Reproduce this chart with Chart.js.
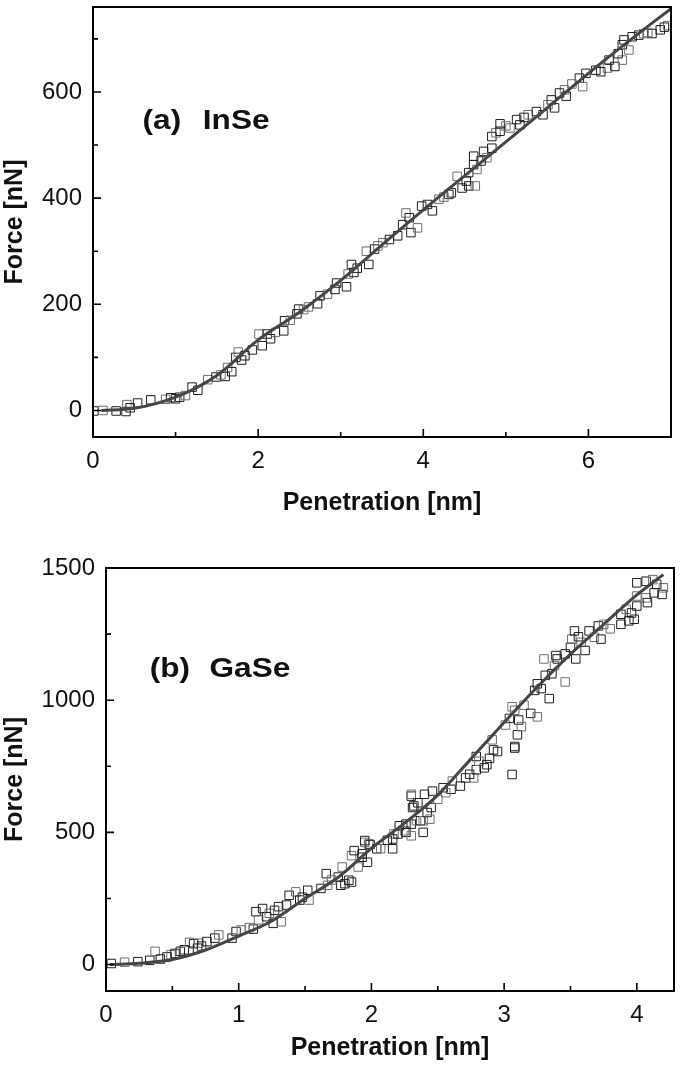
<!DOCTYPE html>
<html>
<head>
<meta charset="utf-8">
<script src="https://cdn.jsdelivr.net/npm/chart.js@4.4.1/dist/chart.umd.min.js"></script>
<style>
  html, body { margin: 0; padding: 0; background: #fff; }
  #wrap { position: relative; width: 681px; height: 1070px; }
  canvas { position: absolute; left: 0; }
</style>
</head>
<body>
<div id="wrap">
  <canvas id="chartA" width="681" height="518" style="top:0px"></canvas>
  <canvas id="chartB" width="681" height="533" style="top:530px"></canvas>
</div>
<script>
// (a) InSe - measured points
const inseX = [0.01, 0.12, 0.28, 0.40, 0.41, 0.54, 0.70, 0.88, 0.94, 1.05, 1.12, 1.20, 1.27, 1.39, 1.49, 1.60, 1.63, 1.68, 1.73, 1.76,
  1.84, 1.93, 2.01, 2.05, 2.11, 2.21, 2.31, 2.32, 2.39, 2.47, 2.49, 2.61, 2.72, 2.75, 2.84, 2.93, 3.07, 3.09, 3.13, 3.16,
  3.31, 3.34, 3.41, 3.51, 3.59, 3.69, 3.79, 3.83, 3.85, 3.93, 4.05, 4.11, 4.19, 4.31, 4.34, 4.41, 4.47, 4.55, 4.63, 4.55,
  4.61, 4.65, 4.61, 4.73, 4.77, 4.83, 4.83, 4.88, 4.93, 4.93, 5.05, 5.13, 5.17, 5.27, 5.37, 5.45, 5.51, 5.55, 5.59, 5.71,
  5.73, 5.89, 5.93, 5.97, 6.09, 6.23, 6.25, 6.32, 6.41, 6.41, 6.43, 6.49, 6.53, 6.61, 6.67, 6.77, 6.87, 6.96,
  0.45, 1.00, 1.55, 1.80, 2.15, 2.55, 2.95, 3.20, 3.45, 3.75, 3.98, 4.25, 4.52, 4.70, 5.00, 5.22, 5.65, 5.80, 6.15, 6.36,
  6.72, 6.92];
const inseY = [-1, 0, -1, -2, 11, 14, 20, 21, 24, 25, 28, 44, 38, 58, 63, 64, 81, 73, 100, 110,
  103, 114, 144, 122, 144, 147, 150, 169, 170, 182, 191, 195, 201, 216, 219, 228, 233, 257, 275, 260,
  300, 275, 304, 316, 322, 329, 372, 363, 335, 344, 388, 376, 398, 407, 410, 441, 419, 423, 423, 448,
  463, 454, 479, 488, 476, 494, 516, 523, 540, 526, 532, 548, 538, 557, 563, 557, 576, 585, 570, 604,
  592, 626, 610, 635, 641, 645, 660, 648, 660, 689, 698, 679, 704, 707, 710, 710, 717, 725,
  5, 22, 67, 95, 135, 190, 240, 268, 310, 350, 385, 402, 432, 470, 536, 552, 598, 615, 638, 672,
  712, 722];
// (a) fitted curve
const inseFitX = [0.1, 0.5, 1, 1.5, 2, 2.5, 3, 3.5, 4, 4.5, 5, 5.5, 6, 6.5, 7];
const inseFitY = [0, 4, 25, 66, 133, 185, 245, 312, 378, 442, 506, 570, 635, 697, 757];
const inseXTicks = [0, 1, 2, 3, 4, 5, 6, 7];
const inseXLabels = [0, 2, 4, 6];
const inseYTicks = [0, 100, 200, 300, 400, 500, 600, 700];
const inseYLabels = [0, 200, 400, 600];

// (b) GaSe - measured points
const gaseX = [0.04, 0.14, 0.24, 0.33, 0.37, 0.41, 0.46, 0.49, 0.56, 0.59, 0.63, 0.66, 0.69, 0.70, 0.76, 0.82, 0.85, 0.95, 0.98, 1.02,
  1.11, 1.13, 1.15, 1.18, 1.21, 1.23, 1.26, 1.30, 1.32, 1.36, 1.38, 1.43, 1.46, 1.52, 1.53, 1.62, 1.66, 1.67, 1.75, 1.77,
  1.78, 1.80, 1.83, 1.85, 1.85, 1.87, 1.90, 1.93, 1.93, 1.95, 1.95, 1.97, 1.98, 1.99, 2.04, 2.07, 2.16, 2.16, 2.17, 2.20,
  2.21, 2.25, 2.26, 2.26, 2.30, 2.30, 2.30, 2.30, 2.31, 2.32, 2.34, 2.37, 2.39, 2.39, 2.40, 2.42, 2.44, 2.45, 2.46, 2.50,
  2.54, 2.60, 2.61, 2.67, 2.71, 2.77, 2.79, 2.79, 2.81, 2.85, 2.87, 2.91, 2.92, 2.95, 3.01, 3.04, 3.06, 3.06, 3.08, 3.08,
  3.08, 3.10, 3.11, 3.15, 3.20, 3.23, 3.25, 3.25, 3.28, 3.30, 3.31, 3.34, 3.38, 3.39, 3.40, 3.46, 3.46, 3.50, 3.51, 3.53,
  3.54, 3.58, 3.61, 3.64, 3.68, 3.71, 3.73, 3.75, 3.88, 3.88, 3.92, 3.94, 3.98, 4.00, 4.00, 4.00, 4.07, 4.07, 4.08, 4.12,
  4.13, 4.19, 4.20,
  0.52, 0.72, 1.08, 1.27, 1.48, 1.70, 2.12, 2.35, 2.56, 2.74, 2.89, 3.13, 3.36, 3.56, 3.80, 3.96, 4.15];
const gaseY = [4, 9, 11, 16, 50, 21, 29, 37, 50, 56, 84, 79, 62, 81, 87, 100, 112, 100, 125, 131,
  134, 200, 169, 212, 181, 194, 156, 219, 162, 225, 262, 275, 244, 281, 244, 288, 344, 300, 331, 300,
  369, 306, 319, 412, 312, 431, 369, 406, 419, 462, 469, 387, 456, 454, 438, 438, 438, 475, 494, 494,
  525, 506, 500, 531, 487, 531, 637, 644, 594, 600, 544, 544, 500, 544, 644, 575, 550, 594, 656, 625,
  669, 663, 694, 675, 706, 706, 787, 737, 769, 744, 756, 850, 812, 806, 906, 931, 719, 975, 825, 819,
  962, 869, 925, 981, 950, 1037, 937, 1062, 1044, 1156, 1094, 1006, 1131, 1169, 1156, 1069, 1175, 1200, 1231, 1262,
  1156, 1219, 1188, 1262, 1238, 1281, 1231, 1287, 1287, 1325, 1344, 1300, 1306, 1394, 1356, 1444, 1387, 1450, 1369, 1456,
  1406, 1400, 1425,
  42, 70, 140, 205, 255, 320, 470, 612, 650, 720, 780, 900, 1100, 1240, 1270, 1330, 1438];
// (b) fitted curve
const gaseFitX = [0.03, 0.25, 0.5, 0.75, 1, 1.25, 1.5, 1.75, 2, 2.25, 2.5, 2.75, 3, 3.25, 3.5, 3.75, 4, 4.2];
const gaseFitY = [0, 5, 19, 55, 108, 165, 250, 330, 440, 535, 641, 778, 916, 1050, 1174, 1287, 1398, 1475];
const gaseXTicks = [0, 0.5, 1, 1.5, 2, 2.5, 3, 3.5, 4];
const gaseXLabels = [0, 1, 2, 3, 4];
const gaseYTicks = [0, 250, 500, 750, 1000, 1250, 1500];
const gaseYLabels = [0, 500, 1000, 1500];

const tickFont = { family: '"Liberation Sans", Arial, sans-serif', size: 24 };
const titleFont = { family: '"Liberation Sans", Arial, sans-serif', size: 25, weight: 'bold' };

const toPoints = (xs, ys) => xs.map((x, i) => ({ x: x, y: ys[i] }));

// frame, inward tick marks and the panel tag
function panelDecor(tag, name, tagAt, nameAt) {
    return {
        id: "panelDecor",
        afterDraw(chart) {
            const { ctx, chartArea: a, scales } = chart;
            ctx.save();
            ctx.strokeStyle = "#000";
            ctx.lineWidth = 2;
            ctx.strokeRect(a.left, a.top, a.right - a.left, a.bottom - a.top);
            ctx.lineWidth = 1.6;
            ctx.beginPath();
            scales.x.ticks.forEach((t) => {
                const px = scales.x.getPixelForValue(t.value);
                ctx.moveTo(px, a.bottom);
                ctx.lineTo(px, a.bottom - (t.label ? 8 : 5));
            });
            scales.y.ticks.forEach((t) => {
                const py = scales.y.getPixelForValue(t.value);
                ctx.moveTo(a.left, py);
                ctx.lineTo(a.left + (t.label ? 8 : 5), py);
            });
            ctx.stroke();

            ctx.font = 'bold 27px "Liberation Sans", Arial, sans-serif';
            ctx.fillStyle = "#111";
            ctx.textBaseline = "alphabetic";
            [[tag, tagAt], [name, nameAt]].forEach(([txt, at]) => {
                ctx.save();
                ctx.translate(scales.x.getPixelForValue(at[0]), scales.y.getPixelForValue(at[1]));
                ctx.scale(1.17, 1);
                ctx.fillText(txt, 0, 0);
                ctx.restore();
            });
            ctx.restore();
        },
    };
}

function makePanel(id, p) {
    return new Chart(document.getElementById(id), {
        type: "scatter",
        data: {
            datasets: [
                {
                    label: "fit",
                    data: toPoints(p.fitX, p.fitY),
                    showLine: true,
                    borderColor: "#454545",
                    borderWidth: 3,
                    pointRadius: 0,
                    cubicInterpolationMode: "monotone",
                },
                {
                    label: "data",
                    data: toPoints(p.x, p.y),
                    showLine: false,
                    pointStyle: "rect",
                    pointRadius: 6,
                    pointBorderWidth: 1,
                    pointBorderColor: (c) => (c.dataIndex % 3 === 1 ? "#6e6e6e" : "#1e1e1e"),
                    pointBackgroundColor: "rgba(255,255,255,0)",
                },
            ],
        },
        options: {
            responsive: false,
            animation: false,
            layout: { padding: p.padding },
            plugins: { legend: { display: false }, tooltip: { enabled: false } },
            scales: {
                x: {
                    type: "linear",
                    min: p.xMin,
                    max: p.xMax,
                    afterBuildTicks: (s) => { s.ticks = p.xTicks.map((v) => ({ value: v })); },
                    afterFit: (s) => { s.height = p.xAxisHeight; },
                    grid: { display: false, drawTicks: false },
                    border: { display: false },
                    ticks: {
                        padding: 10,
                        color: "#111",
                        font: tickFont,
                        maxRotation: 0,
                        autoSkip: false,
                        callback: (v) => (p.xLabels.includes(v) ? String(v) : ""),
                    },
                    title: { display: true, text: "Penetration [nm]", color: "#111", font: titleFont, padding: 0 },
                },
                y: {
                    type: "linear",
                    min: p.yMin,
                    max: p.yMax,
                    afterBuildTicks: (s) => { s.ticks = p.yTicks.map((v) => ({ value: v })); },
                    afterFit: (s) => {
                        s.width = p.yAxisWidth;
                        // the frame sets the plot edges, not the label overhang
                        s.paddingTop = 0;
                        s.paddingBottom = 0;
                    },
                    grid: { display: false, drawTicks: false },
                    border: { display: false },
                    ticks: {
                        padding: 11,
                        color: "#111",
                        font: tickFont,
                        autoSkip: false,
                        callback: (v) => (p.yLabels.includes(v) ? String(v) : ""),
                    },
                    title: { display: true, text: "Force [nN]", color: "#111", font: titleFont, padding: 0 },
                },
            },
        },
        plugins: [panelDecor(p.tag, p.name, p.tagAt, p.nameAt)],
    });
}

makePanel("chartA", {
    x: inseX, y: inseY, fitX: inseFitX, fitY: inseFitY,
    xTicks: inseXTicks, xLabels: inseXLabels, yTicks: inseYTicks, yLabels: inseYLabels,
    xMin: 0, xMax: 7, yMin: -50, yMax: 760,
    padding: { top: 5, right: 7, left: 0, bottom: 0 },
    xAxisHeight: 81, yAxisWidth: 93,
    tag: "(a)", name: "InSe", tagAt: [0.6, 531], nameAt: [1.33, 531],
});

makePanel("chartB", {
    x: gaseX, y: gaseY, fitX: gaseFitX, fitY: gaseFitY,
    xTicks: gaseXTicks, xLabels: gaseXLabels, yTicks: gaseYTicks, yLabels: gaseYLabels,
    xMin: 0, xMax: 4.28, yMin: -100, yMax: 1500,
    padding: { top: 38, right: 6, left: 0, bottom: 0 },
    xAxisHeight: 72, yAxisWidth: 106,
    tag: "(b)", name: "GaSe", tagAt: [0.33, 1087], nameAt: [0.78, 1087],
});
</script>
</body>
</html>
